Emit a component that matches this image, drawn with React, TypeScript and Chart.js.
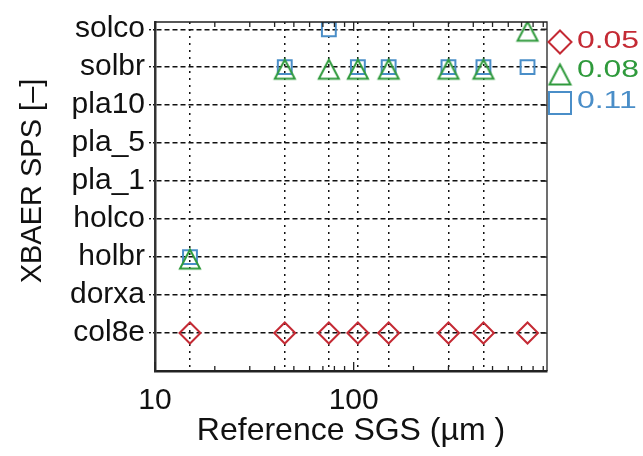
import React, { useEffect, useRef } from 'react';
import { Chart, registerables } from 'chart.js';

Chart.register(...registerables);

// ---- data ----
const categories = ['col8e', 'dorxa', 'holbr', 'holco', 'pla_1', 'pla_5', 'pla10', 'solbr', 'solco'];
const seriesLabels = ['0.05', '0.08', '0.11'];
const seriesColors = ['#c42a34', '#2f9a3c', '#4a8ec8'];
const sgs005 = [15, 45, 75, 105, 150, 300, 450, 750];
const sps005 = ['col8e', 'col8e', 'col8e', 'col8e', 'col8e', 'col8e', 'col8e', 'col8e'];
const sgs008 = [15, 45, 75, 105, 150, 300, 450, 750];
const sps008 = ['holbr', 'solbr', 'solbr', 'solbr', 'solbr', 'solbr', 'solbr', 'solco'];
const sgs011 = [15, 45, 75, 105, 150, 300, 450, 750];
const sps011 = ['holbr', 'solbr', 'solco', 'solbr', 'solbr', 'solbr', 'solbr', 'solbr'];
const xLabelTicks = [10, 100];
const xGridValues = [15, 45, 75, 105, 150, 300, 450];
const xMinorTicks = [20, 30, 40, 50, 60, 70, 80, 90, 200, 300, 400, 500, 600, 700, 800, 900];
const xMin = 10;
const xMax = 940;
const yMin = -1;
const yMax = 8.19;
const xTitle = 'Reference SGS (µm )';
const yTitle = 'XBAER SPS [–]';

const FONT = '"Liberation Sans", Arial, Helvetica, sans-serif';

function makeTriangle(color: string, w: number, up: number, down: number, lw: number) {
  const c = document.createElement('canvas');
  const half = Math.ceil(Math.max(up, down) + lw * 2);
  c.width = Math.ceil(w + lw * 3);
  c.height = half * 2;
  const ctx = c.getContext('2d')!;
  const cx = c.width / 2;
  const cy = c.height / 2;
  ctx.strokeStyle = color;
  ctx.lineWidth = lw;
  ctx.beginPath();
  ctx.moveTo(cx, cy - up);
  ctx.lineTo(cx + w / 2, cy + down);
  ctx.lineTo(cx - w / 2, cy + down);
  ctx.closePath();
  ctx.stroke();
  return c;
}

function toPoints(xs: number[], ys: string[]) {
  return xs.map((x, i) => ({ x, y: categories.indexOf(ys[i]) }));
}

export default function App() {
  const ref = useRef<HTMLCanvasElement | null>(null);

  useEffect(() => {
    if (!ref.current) return;
    const tri = makeTriangle(seriesColors[1], 20, 7.5, 11.5, 2);
    const legendTri = makeTriangle(seriesColors[1], 21, 9.5, 10.5, 2);

    const frame = {
      id: 'frameLegend',
      afterDraw(chart: any) {
        const { ctx, chartArea, scales } = chart;
        const { left, right, top, bottom } = chartArea;
        const x = scales.x;
        const y = scales.y;
        ctx.save();
        ctx.strokeStyle = '#222';
        ctx.lineWidth = 1.3;
        ctx.setLineDash([]);
        ctx.beginPath();
        ctx.moveTo(left, top);
        ctx.lineTo(right, top);
        ctx.lineTo(right, bottom);
        ctx.stroke();
        const tick = (px: number, len: number) => {
          ctx.beginPath();
          ctx.moveTo(px, bottom);
          ctx.lineTo(px, bottom - len);
          ctx.moveTo(px, top);
          ctx.lineTo(px, top + len);
          ctx.stroke();
        };
        xMinorTicks.forEach((v) => tick(x.getPixelForValue(v), 5));
        xLabelTicks.forEach((v) => tick(x.getPixelForValue(v), 9));
        categories.forEach((_, i) => {
          const py = y.getPixelForValue(i);
          ctx.beginPath();
          ctx.moveTo(right, py);
          ctx.lineTo(right - 6, py);
          ctx.stroke();
        });

        // y title
        ctx.fillStyle = '#111';
        ctx.font = `29px ${FONT}`;
        ctx.textAlign = 'center';
        ctx.textBaseline = 'middle';
        ctx.save();
        ctx.translate(33, 181);
        ctx.rotate(-Math.PI / 2);
        ctx.fillText(yTitle, 0, 0);
        ctx.restore();

        // legend
        const mx = right + 13;
        const textX = right + 30;
        const rows = [
          { ty: 41, my: 42 },
          { ty: 70, my: 74 },
          { ty: 101, my: 103 },
        ];
        chart.data.datasets.forEach((ds: any, i: number) => {
          const r = rows[i];
          ctx.strokeStyle = seriesColors[i];
          ctx.lineWidth = 2;
          if (i === 0) {
            const h = 11.5;
            ctx.beginPath();
            ctx.moveTo(mx, r.my - h);
            ctx.lineTo(mx + h, r.my);
            ctx.lineTo(mx, r.my + h);
            ctx.lineTo(mx - h, r.my);
            ctx.closePath();
            ctx.stroke();
          } else if (i === 1) {
            ctx.drawImage(legendTri, mx - legendTri.width / 2, r.my - legendTri.height / 2);
          } else {
            ctx.strokeRect(mx - 11, r.my - 11, 22, 22);
          }
          ctx.fillStyle = seriesColors[i];
          ctx.font = `24px ${FONT}`;
          ctx.textAlign = 'left';
          ctx.textBaseline = 'middle';
          ctx.save();
          ctx.translate(textX, r.ty);
          ctx.scale(1.33, 1);
          ctx.fillText(ds.label, 0, 0);
          ctx.restore();
        });
        ctx.restore();
      },
    };

    const chart = new Chart(ref.current, {
      type: 'scatter',
      data: {
        datasets: [
          {
            label: seriesLabels[0],
            data: toPoints(sgs005, sps005),
            borderColor: seriesColors[0],
            backgroundColor: 'rgba(0,0,0,0)',
            pointStyle: 'rectRot',
            pointRadius: 10.5,
            pointHoverRadius: 10.5,
            pointBorderWidth: 2,
            showLine: false,
          },
          {
            label: seriesLabels[1],
            data: toPoints(sgs008, sps008),
            borderColor: seriesColors[1],
            backgroundColor: 'rgba(0,0,0,0)',
            pointStyle: tri as any,
            pointRadius: 11,
            pointHoverRadius: 11,
            pointBorderWidth: 2,
            showLine: false,
          },
          {
            label: seriesLabels[2],
            data: toPoints(sgs011, sps011),
            borderColor: seriesColors[2],
            backgroundColor: 'rgba(0,0,0,0)',
            pointStyle: 'rect',
            pointRadius: 9.8,
            pointHoverRadius: 9.8,
            pointBorderWidth: 2,
            showLine: false,
          },
        ],
      },
      options: {
        responsive: false,
        animation: false,
        events: [],
        layout: { padding: { left: 0, top: 12, right: 96, bottom: 0 } },
        plugins: { legend: { display: false }, tooltip: { enabled: false } },
        scales: {
          x: {
            type: 'logarithmic',
            min: xMin,
            max: xMax,
            afterBuildTicks: (s: any) => {
              s.ticks = [...xLabelTicks, ...xGridValues].sort((a, b) => a - b).map((v) => ({ value: v }));
            },
            afterFit: (s: any) => {
              s.height = 85;
            },
            ticks: {
              autoSkip: false,
              maxRotation: 0,
              minRotation: 0,
              padding: 12,
              color: '#111',
              font: { family: FONT, size: 30, weight: 'normal' },
              callback: (v: any) => (xLabelTicks.includes(Number(v)) ? String(v) : ''),
            },
            grid: {
              drawTicks: false,
              lineWidth: 1.5,
              color: (c: any) => (c.tick && xGridValues.includes(c.tick.value) ? '#111' : 'rgba(0,0,0,0)'),
            },
            border: { display: true, color: '#222', width: 2.5, dash: [2, 5] },
            title: {
              display: true,
              text: xTitle,
              color: '#111',
              font: { family: FONT, size: 32, weight: 'normal' },
              padding: { top: 0, bottom: 6 },
            },
          },
          y: {
            type: 'linear',
            min: yMin,
            max: yMax,
            afterBuildTicks: (s: any) => {
              s.ticks = categories.map((_, i) => ({ value: i }));
            },
            afterFit: (s: any) => {
              s.width = 155;
            },
            ticks: {
              autoSkip: false,
              padding: 4,
              color: '#111',
              font: { family: FONT, size: 30, weight: 'normal' },
              callback: (v: any) => categories[Number(v)] ?? '',
            },
            grid: {
              drawTicks: true,
              tickLength: 6,
              tickBorderDash: [2, 2],
              tickColor: '#111',
              color: '#111',
              lineWidth: 1.4,
            },
            border: { display: true, color: '#333', width: 2.5, dash: [5, 3] },
          },
        },
      },
      plugins: [frame],
    } as any);

    return () => chart.destroy();
  }, []);

  return (
    <div style={{ position: 'fixed', left: 0, top: 0, width: 643, height: 456, background: '#fff' }}>
      <canvas ref={ref} width={643} height={456} style={{ display: 'block', width: 643, height: 456 }} />
    </div>
  );
}
